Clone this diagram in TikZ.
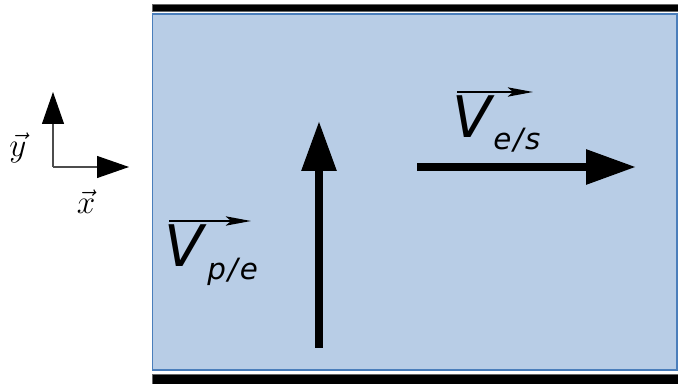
\documentclass[tikz,border=0pt]{standalone}
\usepackage{fontspec}
\newfontfamily\vecfont{DejaVu Sans}
\usetikzlibrary{arrows.meta}
\definecolor{chan}{HTML}{B8CDE6}
\definecolor{chanedge}{HTML}{4A7EBB}

\begin{document}
\begin{tikzpicture}[x=0.75pt, y=-0.75pt,
      wall/.style={draw=black!60, fill=black, line width=0.6pt},
      bigarr/.style={-{Triangle[length=37.5pt, width=25pt]}, line width=6pt},
      axarr/.style={-{Triangle[length=24pt, width=16.5pt, color=black]}, line width=0.8pt, black!70},
      overarr/.style={-{Stealth[length=19pt, width=7pt, inset=4pt]}, line width=1.4pt},
      vlabel/.style={inner sep=0pt, anchor=base west, font=\vecfont\itshape\fontsize{43}{46}\selectfont},
      sublabel/.style={inner sep=0pt, anchor=base west, font=\vecfont\itshape\fontsize{22}{26}\selectfont},
      axlabel/.style={inner sep=0pt, font=\fontsize{27}{30}\selectfont}]
    \useasboundingbox (0,0) rectangle (678,384);
    % channel and walls
    \draw[chanedge, fill=chan, line width=0.8pt] (152.5,14) rectangle (677,370);
    \draw[wall] (152,4) rectangle (678,11);
    \draw[wall] (152,374.5) rectangle (678,384.5);
    % axes
    \coordinate (origin) at (53,167);
    \coordinate (ytip) at (53,92);
    \coordinate (xtip) at (129,167);
    \draw[axarr] (origin) -- (ytip);
    \draw[axarr] (origin) -- (xtip);
    \node[axlabel] (ylab) at (18,148) {$\vec{y}$};
    \node[axlabel] (xlab) at (86,202) {$\vec{x}$};
    % velocities
    \coordinate (petail) at (319,348);
    \coordinate (pehead) at (319,121);
    \coordinate (estail) at (417,167);
    \coordinate (eshead) at (636,167);
    \draw[bigarr] (petail) -- (pehead);
    \draw[bigarr] (estail) -- (eshead);
    % labels
    \node[vlabel] (Vpe) at (164,267) {V};
    \node[sublabel] (pe) at (207,280) {p\kern1.5pt/\kern1.5pt e};
    \coordinate (pebarl) at (169,221);
    \coordinate (pebarr) at (251,221);
    \draw[overarr] (pebarl) -- (pebarr);
    \node[vlabel] (Ves) at (452,138) {V};
    \node[sublabel] (es) at (493,150) {e\kern1.5pt/\kern1.5pt s};
    \coordinate (esbarl) at (457,92);
    \coordinate (esbarr) at (533,92);
    \draw[overarr] (esbarl) -- (esbarr);
  \end{tikzpicture}
\end{document}
